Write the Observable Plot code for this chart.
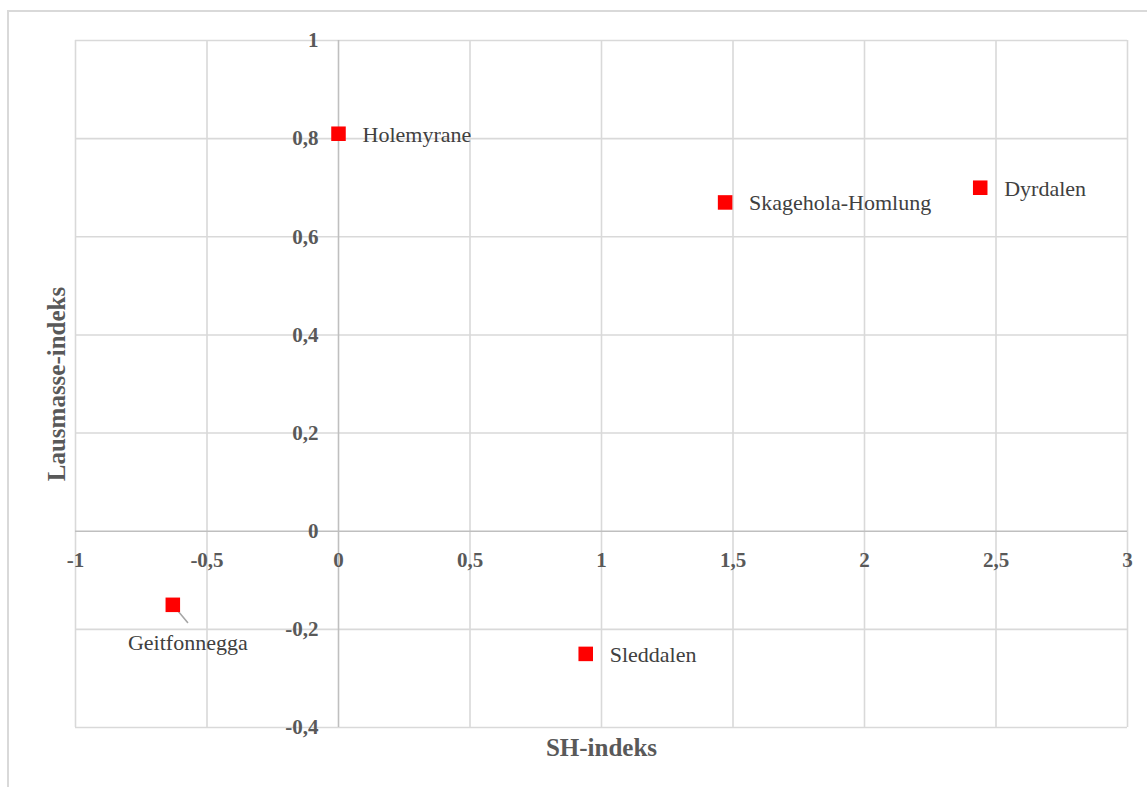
<!DOCTYPE html>
<html>
<head>
<meta charset="utf-8">
<script src="https://cdn.jsdelivr.net/npm/d3@7"></script>
<script src="https://cdn.jsdelivr.net/npm/@observablehq/plot@0.6"></script>
<style>
  html, body { margin: 0; padding: 0; background: #fff; overflow: hidden; }
  #wrap { position: relative; width: 1147px; height: 787px; }
  #frame { position: absolute; left: 7px; top: 10px; width: 1200px; height: 900px; border: 2px solid #d9d9d9; box-sizing: border-box; }
  #chart { position: absolute; left: 0; top: 0; }
</style>
</head>
<body>
<div id="wrap"><div id="frame"></div><div id="chart"></div></div>
<script>
const names = ["Holemyrane", "Skagehola-Homlung", "Dyrdalen", "Geitfonnegga", "Sleddalen"];
const shIndex = [0.0, 1.47, 2.44, -0.63, 0.94];
const lausmasse = [0.81, 0.67, 0.70, -0.15, -0.25];
const xTicks = [-1, -0.5, 0, 0.5, 1, 1.5, 2, 2.5, 3];
const yTicks = [-0.4, -0.2, 0, 0.2, 0.4, 0.6, 0.8, 1];
const xTitle = "SH-indeks";
const yTitle = "Lausmasse-indeks";

const pts = names.map((n, i) => ({name: n, x: shIndex[i], y: lausmasse[i]}));
const below = new Set(["Geitfonnegga"]);
const fmt = d => String(d).replace(".", ",");
const serif = "'Liberation Serif', 'Times New Roman', serif";

const chart = Plot.plot({
  width: 1147,
  height: 787,
  marginLeft: 75,
  marginRight: 20,
  marginTop: 40,
  marginBottom: 60,
  style: {fontFamily: serif, background: "transparent"},
  x: {domain: [-1, 3], axis: null},
  y: {domain: [-0.4, 1], axis: null},
  marks: [
    Plot.ruleX(xTicks.filter(d => d !== 0), {stroke: "#d9d9d9", strokeWidth: 1.6}),
    Plot.ruleY(yTicks.filter(d => d !== 0), {stroke: "#d9d9d9", strokeWidth: 1.6}),
    Plot.ruleX([0], {stroke: "#bfbfbf", strokeWidth: 1.6}),
    Plot.ruleY([0], {stroke: "#bfbfbf", strokeWidth: 1.6}),
    Plot.text(xTicks, {x: d => d, y: 0, text: fmt, dy: 29, fontSize: 21, fontWeight: "bold", fill: "#595959", textAnchor: "middle"}),
    Plot.text(yTicks, {x: 0, y: d => d, text: fmt, dx: -20, fontSize: 21, fontWeight: "bold", fill: "#595959", textAnchor: "end"}),
    Plot.text([xTitle], {frameAnchor: "bottom", lineAnchor: "middle", textAnchor: "middle", dy: 20, fontSize: 25, fontWeight: "bold", fill: "#595959"}),
    Plot.text([yTitle], {frameAnchor: "left", lineAnchor: "middle", textAnchor: "middle", dx: -19, rotate: -90, fontSize: 25, fontWeight: "bold", fill: "#595959"}),
    Plot.vector(pts.filter(d => below.has(d.name)), {
      x: "x", y: "y", length: 23, rotate: 140, anchor: "start",
      stroke: "#a6a6a6", strokeWidth: 1.6,
      shape: {draw(context, l) { context.moveTo(0, 0); context.lineTo(0, -l); }}
    }),
    Plot.dot(pts, {x: "x", y: "y", symbol: "square", r: 8.2, fill: "#ff0000", stroke: "none"}),
    Plot.text(pts.filter(d => !below.has(d.name)), {x: "x", y: "y", text: "name", dx: 24, dy: 1, textAnchor: "start", fontSize: 22, fill: "#404040"}),
    Plot.text(pts.filter(d => below.has(d.name)), {x: "x", y: "y", text: "name", dx: 15, dy: 38, textAnchor: "middle", fontSize: 22, fill: "#404040"})
  ]
});
document.getElementById("chart").appendChild(chart);
</script>
</body>
</html>
